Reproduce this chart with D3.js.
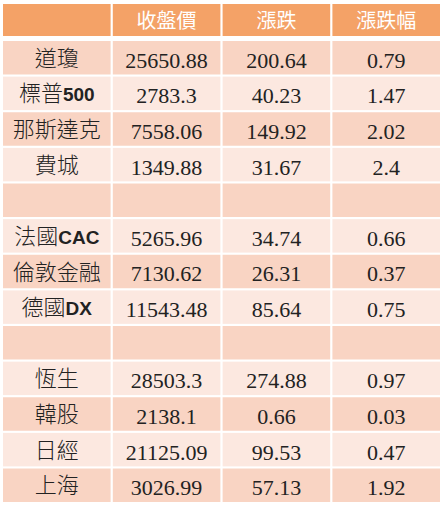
<!DOCTYPE html>
<html>
<head>
<meta charset="utf-8">
<script src="https://cdn.jsdelivr.net/npm/d3@7"></script>
<style>
  body { margin: 0; background: #fff; }
</style>
</head>
<body>
<div id="chart"></div>
<script>
const headers = ['', '收盤價', '漲跌', '漲跌幅'];
const names = ['道瓊', '標普500', '那斯達克', '費城', '', '法國CAC', '倫敦金融', '德國DX', '', '恆生', '韓股', '日經', '上海'];
const closes = ['25650.88', '2783.3', '7558.06', '1349.88', '', '5265.96', '7130.62', '11543.48', '', '28503.3', '2138.1', '21125.09', '3026.99'];
const changes = ['200.64', '40.23', '149.92', '31.67', '', '34.74', '26.31', '85.64', '', '274.88', '0.66', '99.53', '57.13'];
const pcts = ['0.79', '1.47', '2.02', '2.4', '', '0.66', '0.37', '0.75', '', '0.97', '0.03', '0.47', '1.92'];

const width = 443, height = 514;
const svg = d3.select('#chart').append('svg')
    .attr('width', width)
    .attr('height', height);

const x = d3.scaleBand()
    .domain(d3.range(headers.length))
    .range([3, 440])
    .paddingInner(0.02);

const y = d3.scaleBand()
    .domain(d3.range(names.length))
    .range([41, 502])
    .paddingInner(0.06);

// header
svg.selectAll('rect.head')
    .data(headers)
    .join('rect')
    .attr('class', 'head')
    .attr('x', (d, i) => x(i))
    .attr('y', 4)
    .attr('width', x.bandwidth())
    .attr('height', 32)
    .attr('fill', '#f4a267');

svg.selectAll('text.head')
    .data(headers)
    .join('text')
    .attr('class', 'head')
    .attr('x', (d, i) => x(i) + x.bandwidth() / 2)
    .attr('y', 28)
    .attr('text-anchor', 'middle')
    .attr('fill', '#fff')
    .style('font-family', '"Noto Sans CJK TC"')
    .style('font-size', '20px')
    .text(d => d);

const rows = names.map((n, i) => [n, closes[i], changes[i], pcts[i]]);

const row = svg.selectAll('g.row')
    .data(rows)
    .join('g')
    .attr('class', 'row')
    .attr('transform', (d, i) => `translate(0,${y(i)})`);

row.selectAll('rect')
    .data((d, i) => d.map(v => i))
    .join('rect')
    .attr('x', (d, j) => x(j))
    .attr('width', x.bandwidth())
    .attr('height', y.bandwidth())
    .attr('fill', d => d % 2 === 0 ? '#f9d4c3' : '#fce8e0');

// label cells: CJK part light, latin part bold sans
row.append('text')
    .attr('x', x(0) + x.bandwidth() / 2)
    .attr('y', y.bandwidth() / 2 + 8)
    .attr('text-anchor', 'middle')
    .attr('fill', '#222')
    .style('font-size', '22px')
    .each(function(d) {
        const parts = d[0].match(/[A-Za-z0-9]+|[^A-Za-z0-9]+/g) || [];
        const t = d3.select(this);
        parts.forEach(p => {
            const latin = /[A-Za-z0-9]/.test(p);
            t.append('tspan')
                .style('font-family', latin ? '"Liberation Sans", Arial, sans-serif' : '"Noto Sans CJK TC"')
                .style('font-weight', latin ? 'bold' : 300)
                .style('font-size', latin ? '19px' : '22px')
                .text(p);
        });
    });

row.selectAll('text.num')
    .data(d => d.slice(1))
    .join('text')
    .attr('class', 'num')
    .attr('x', (d, j) => x(j + 1) + x.bandwidth() / 2)
    .attr('y', y.bandwidth() / 2 + 10)
    .attr('text-anchor', 'middle')
    .attr('fill', '#222')
    .style('font-family', '"Liberation Serif", "Times New Roman", "DejaVu Serif", serif')
    .style('font-size', '22px')
    .text(d => d);
</script>
</body>
</html>
